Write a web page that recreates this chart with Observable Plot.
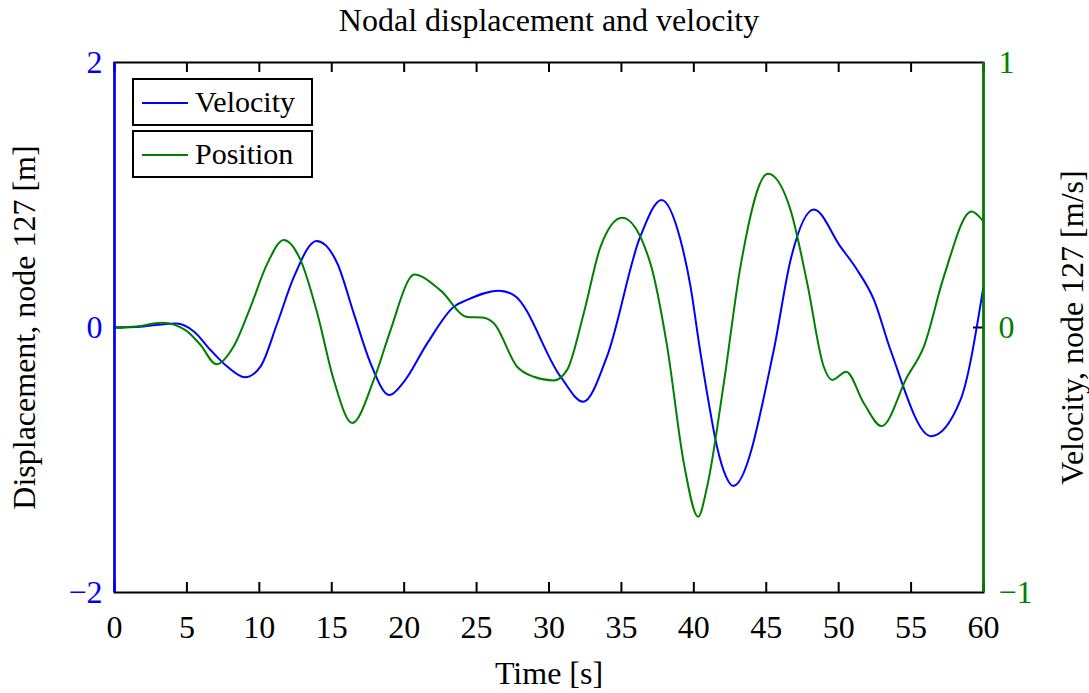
<!DOCTYPE html>
<html>
<head>
<meta charset="utf-8">
<script src="https://cdn.jsdelivr.net/npm/d3@7"></script>
<script src="https://cdn.jsdelivr.net/npm/@observablehq/plot@0.6"></script>
<style>
  html, body { margin: 0; padding: 0; background: #fff; }
  #wrap { position: relative; width: 1089px; height: 693px; font-family: "Liberation Serif", "Times New Roman", serif; }
  .lg { position: absolute; left: 132px; width: 177px; height: 44px; border: 2px solid #000; background: #fff; box-sizing: content-box; }
  .lg .sw { position: absolute; left: 8px; width: 46px; height: 0; top: 22px; border-top: 2px solid; }
  .lg .tx { position: absolute; left: 61px; top: 0; font-size: 30px; line-height: 44px; color: #000; white-space: nowrap; }
</style>
</head>
<body>
<div id="wrap"></div>
<script>
// ---- data ----
const title = "Nodal displacement and velocity";
const xLabel = "Time [s]";
const leftLabel = "Displacement, node 127 [m]";
const rightLabel = "Velocity, node 127 [m/s]";
const xDomain = [0, 60];
const leftDomain = [-2, 2];
const rightDomain = [-1, 1];
const xTicks = [0, 5, 10, 15, 20, 25, 30, 35, 40, 45, 50, 55, 60];
const leftTicks = [-2, 0, 2];
const rightTicks = [-1, 0, 1];
const seriesNames = ["Velocity", "Position"];
const seriesColors = ["#0000ff", "#008000"];

// blue series, read on the left axis
const blueT = [0, 1, 2, 3, 4.28, 5.48, 6.63, 7.78, 9.0, 10.08, 11.23, 12.38, 13.95, 15.38, 16.52, 17.68, 18.97, 19.98,
  21.59, 23.43, 24.35, 26.53, 27.57, 30.8, 32.36, 34.0, 36.3, 37.77, 39.08, 39.77, 40.4, 41.0, 41.6, 42.2, 42.72, 45.52, 46.68, 48.28,
  50.12, 51.28, 52.43, 53.58, 56.39, 58.41, 60.0];
const blueV = [0, 0.002, 0.008, 0.02, 0.03, -0.03, -0.17, -0.295, -0.376, -0.295, 0.03, 0.38, 0.653, 0.485, 0.107, -0.27, -0.51, -0.41,
  -0.12, 0.157, 0.208, 0.278, 0.245, -0.371, -0.56, -0.22, 0.685, 0.962, 0.66, 0.31, -0.15, -0.55, -0.9, -1.12, -1.196, -0.17, 0.51, 0.89,
  0.61, 0.434, 0.21, -0.17, -0.82, -0.547, 0.31];

// green series, read on the right axis
const greenT = [0, 1.5, 3.29, 4.9, 5.94, 7.04, 8.24, 9.41, 10.54, 11.69, 12.84, 14.0, 15.14, 16.41, 17.9, 19.06, 20.44, 20.67,
  22.51, 24.35, 25.39, 26.19, 27.8, 28.95, 30.33, 31.25, 32.4, 33.56, 35.05, 37.0, 38.16, 39.31, 40.3, 40.92, 42.07, 43.22,
  45.11, 46.68, 47.83, 48.97, 49.56, 50.52, 51.74, 52.96, 54.73, 55.88, 57.26, 59.17, 60.0];
const greenV = [0, 0.004, 0.018, -0.01, -0.066, -0.139, -0.07, 0.08, 0.24, 0.33, 0.255, 0.054, -0.198, -0.36, -0.198, -0.01, 0.19, 0.2,
  0.14, 0.04, 0.038, 0.016, -0.148, -0.186, -0.2, -0.16, 0.054, 0.305, 0.414, 0.242, -0.072, -0.512, -0.714, -0.6, -0.21, 0.23,
  0.58, 0.443, 0.167, -0.148, -0.198, -0.167, -0.286, -0.372, -0.186, -0.072, 0.192, 0.438, 0.4];

// ---- build ----
const ratio = (leftDomain[1] - leftDomain[0]) / (rightDomain[1] - rightDomain[0]);
const blue = blueT.map((t, i) => ({t, v: blueV[i]}));
const green = greenT.map((t, i) => ({t, v: greenV[i] * ratio}));
const fmt = d => (d < 0 ? "\u2212" + Math.abs(d) : String(d));
const FONT = "Liberation Serif, Times New Roman, serif";
const W = 1089, H = 693;
const mL = 114, mR = 106, mT = 62, mB = 101;
const frameW = W - mL - mR, frameH = H - mT - mB;
const tickLen = 10;
const txt = {fontSize: 32, fontFamily: FONT, fill: "#000", textAnchor: "middle", lineAnchor: "middle"};

const chart = Plot.plot({
  width: W, height: H,
  marginLeft: mL, marginRight: mR, marginTop: mT, marginBottom: mB,
  x: {domain: xDomain, axis: null},
  y: {domain: leftDomain, axis: null},
  style: {fontFamily: FONT, fontSize: "32px", background: "#fff", color: "#000"},
  marks: [
    Plot.frame({stroke: "#000", strokeWidth: 2}),
    Plot.tickX(xTicks, {x: d => d, insetTop: frameH - tickLen, stroke: "#000", strokeWidth: 2}),
    Plot.tickX(xTicks, {x: d => d, insetBottom: frameH - tickLen, stroke: "#000", strokeWidth: 2}),
    Plot.tickY([0], {y: d => d, insetRight: frameW - tickLen, stroke: seriesColors[1], strokeWidth: 2}),
    Plot.tickY([0], {y: d => d, insetLeft: frameW - tickLen, stroke: "#000", strokeWidth: 2}),
    Plot.line(blue, {x: "t", y: "v", stroke: seriesColors[0], strokeWidth: 2, curve: "monotone-x"}),
    Plot.line(green, {x: "t", y: "v", stroke: seriesColors[1], strokeWidth: 2, curve: "monotone-x"}),
    Plot.ruleX([xDomain[0]], {stroke: seriesColors[0], strokeWidth: 2.5}),
    Plot.ruleX([xDomain[1]], {stroke: seriesColors[1], strokeWidth: 2.5}),
    Plot.axisX({ticks: xTicks, tickSize: 0, tickPadding: 23, tickFormat: fmt, fontSize: 32, fontFamily: FONT, fill: "#000", label: null}),
    Plot.axisY({anchor: "left", ticks: leftTicks, tickSize: 0, tickPadding: 12, tickFormat: fmt, fontSize: 32, fontFamily: FONT, fill: seriesColors[0], label: null}),
    Plot.axisY({anchor: "right", ticks: rightTicks.map(d => d * ratio), tickSize: 0, tickPadding: 15, tickFormat: d => fmt(d / ratio), fontSize: 32, fontFamily: FONT, fill: seriesColors[1], label: null}),
    Plot.text([title], {...txt, frameAnchor: "top", dy: -42}),
    Plot.text([xLabel], {...txt, frameAnchor: "bottom", dy: 81}),
    Plot.text([leftLabel], {...txt, frameAnchor: "left", dx: -90, rotate: -90}),
    Plot.text([rightLabel], {...txt, frameAnchor: "right", dx: 89, rotate: -90})
  ]
});
const wrap = document.getElementById("wrap");
wrap.appendChild(chart);

// legend (two boxed entries, as in the source)
seriesNames.forEach((name, i) => {
  const box = document.createElement("div");
  box.className = "lg";
  box.style.top = (78 + i * 52) + "px";
  const sw = document.createElement("div");
  sw.className = "sw";
  sw.style.borderTopColor = seriesColors[i];
  const tx = document.createElement("div");
  tx.className = "tx";
  tx.textContent = name;
  box.appendChild(sw);
  box.appendChild(tx);
  wrap.appendChild(box);
});
</script>
</body>
</html>
